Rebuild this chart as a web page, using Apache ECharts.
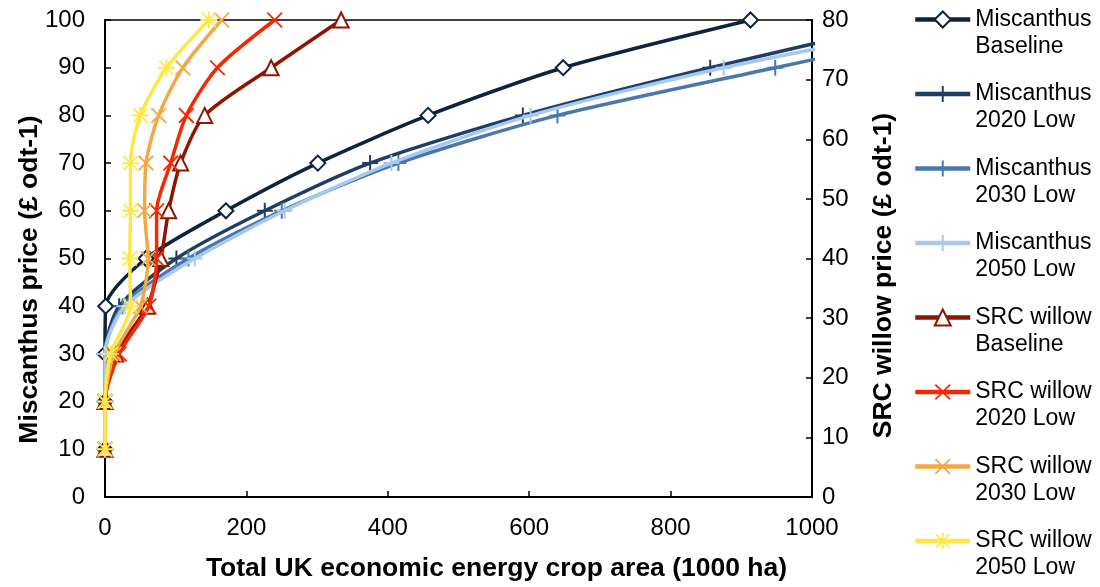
<!DOCTYPE html>
<html>
<head>
<meta charset="utf-8">
<script src="https://cdn.jsdelivr.net/npm/echarts@6/dist/echarts.min.js"></script>
<style>html,body{margin:0;padding:0;background:#fff}#c{width:1100px;height:587px}</style>
</head>
<body>
<div id="c"></div>
<script>
// Prices (y values)
var miscPrice = [10, 20, 30, 40, 50, 60, 70, 80, 90, 100];      // left axis (£ odt-1)
var srcPrice  = [8, 16, 24, 32, 40, 48, 56, 64, 72, 80];         // right axis (£ odt-1)

// Areas (1000 ha)
var miscBaseline = [0, 0, 0, 1, 58, 171, 301, 457, 648, 913];
var misc2020Low  = [0, 0, 0, 20, 101, 226, 375, 591, 856, 1150];
var misc2030Low  = [0, 0, 0, 25, 118, 250, 415, 640, 948, 1270];
var misc2050Low  = [0, 0, 0, 28, 127, 254, 405, 602, 875, 1220];
var srcBaseline  = [0, 0, 15, 60, 79, 90, 107, 141, 235, 334];
var src2020Low   = [0, 0, 20, 62, 73, 73, 93, 115, 159, 240];
var src2030Low   = [0, 0, 13, 50, 61, 56, 58, 76, 110, 165];
var src2050Low   = [0, 0, 8, 36, 35, 36, 36, 50, 87, 147];

var seriesNames = ['Miscanthus Baseline', 'Miscanthus 2020 Low', 'Miscanthus 2030 Low', 'Miscanthus 2050 Low',
                   'SRC willow Baseline', 'SRC willow 2020 Low', 'SRC willow 2030 Low', 'SRC willow 2050 Low'];
var legendLabels = ['Miscanthus\nBaseline', 'Miscanthus\n2020 Low', 'Miscanthus\n2030 Low', 'Miscanthus\n2050 Low',
                    'SRC willow\nBaseline', 'SRC willow\n2020 Low', 'SRC willow\n2030 Low', 'SRC willow\n2050 Low'];
var xTicks = [0, 200, 400, 600, 800, 1000];

var PLUS = 'path://M8.75,0 L11.25,0 L11.25,20 L8.75,20 Z M0,8.75 L20,8.75 L20,11.25 L0,11.25 Z';
var CROSS = 'path://M1.6,0 L20,18.4 L18.4,20 L0,1.6 Z M18.4,0 L20,1.6 L1.6,20 L0,18.4 Z';
var STAR = 'path://M8.9,0 L11.1,0 L11.1,20 L8.9,20 Z M0,8.9 L20,8.9 L20,11.1 L0,11.1 Z M2.4,1 L19,17.6 L17.6,19 L1,2.4 Z M17.6,1 L19,2.4 L2.4,19 L1,17.6 Z';

function pairs(xs, ys) { return xs.map(function (x, i) { return [x, ys[i]]; }); }

function mk(idx, xs, ys, axis, color, symbol, size, hollow) {
  return {
    name: seriesNames[idx], type: 'line', yAxisIndex: axis,
    data: pairs(xs, ys), smooth: 0.25, clip: true,
    symbol: symbol, symbolSize: size, showAllSymbol: true,
    lineStyle: { color: color, width: 3.5 },
    itemStyle: hollow ? { color: '#ffffff', borderColor: color, borderWidth: 2 } : { color: color, borderWidth: 0 },
    emphasis: { disabled: true },
    z: 2 + idx
  };
}

var chart = echarts.init(document.getElementById('c'), null, { renderer: 'canvas' });
var FONT = 'Liberation Sans';
chart.setOption({
  animation: false,
  backgroundColor: '#ffffff',
  grid: { left: 105, right: 288, top: 20, bottom: 86, show: true, borderColor: '#000', borderWidth: 1.5, backgroundColor: 'transparent' },
  legend: {
    orient: 'vertical', left: 913, top: -21, height: 800, padding: 0, itemGap: -6.5,
    itemWidth: 55, itemHeight: 20,
    lineStyle: { width: 4.5 },
    data: seriesNames,
    formatter: function (n) { return '\n' + legendLabels[seriesNames.indexOf(n)]; },
    textStyle: { fontFamily: FONT, fontSize: 23, color: '#000', lineHeight: 27 }
  },
  xAxis: {
    type: 'value', min: 0, max: 1000, interval: 200,
    name: 'Total UK economic energy crop area (1000 ha)', nameLocation: 'middle', nameGap: 58, nameMoveOverlap: false,
    nameTextStyle: { fontFamily: FONT, fontSize: 26.5, fontWeight: 'bold', color: '#000', padding: [0, 0, 0, 76] },
    axisLine: { lineStyle: { color: '#000', width: 2 } },
    axisTick: { inside: true, length: 6, lineStyle: { color: '#000', width: 1.5 } },
    axisLabel: { fontFamily: FONT, fontSize: 24, color: '#000', margin: 19,
                 formatter: function (v) { return xTicks.indexOf(v) >= 0 ? String(v) : ''; } },
    splitLine: { show: false }
  },
  yAxis: [{
    type: 'value', min: 0, max: 100, interval: 10, position: 'left',
    name: 'Miscanthus price (£ odt-1)', nameLocation: 'middle', nameGap: 62, nameMoveOverlap: false,
    nameTextStyle: { fontFamily: FONT, fontSize: 26.5, fontWeight: 'bold', color: '#000', padding: [0, 42, 0, 0] },
    axisLine: { show: true, lineStyle: { color: '#000', width: 2 } },
    axisTick: { show: true, inside: true, length: 6, lineStyle: { color: '#000', width: 1.5 } },
    axisLabel: { fontFamily: FONT, fontSize: 24, color: '#000', margin: 20 },
    splitLine: { show: false }
  }, {
    type: 'value', min: 0, max: 80, interval: 10, position: 'right',
    name: 'SRC willow price (£ odt-1)', nameLocation: 'middle', nameGap: 58,
    nameTextStyle: { fontFamily: FONT, fontSize: 26.5, fontWeight: 'bold', color: '#000', padding: [0, 34, 0, 0] },
    axisLine: { show: true, lineStyle: { color: '#000', width: 2 } },
    axisTick: { show: true, inside: true, length: 6, lineStyle: { color: '#000', width: 1.5 } },
    axisLabel: { fontFamily: FONT, fontSize: 24, color: '#000', margin: 10 },
    splitLine: { show: false }
  }],
  series: [
    mk(0, miscBaseline, miscPrice, 0, '#0e2340', 'diamond', 15, true),
    mk(1, misc2020Low, miscPrice, 0, '#1f3e66', PLUS, 16, false),
    mk(2, misc2030Low, miscPrice, 0, '#4a78aa', PLUS, 16, false),
    mk(3, misc2050Low, miscPrice, 0, '#a8c8ec', PLUS, 16, false),
    mk(4, srcBaseline, srcPrice, 1, '#8e1500', 'triangle', 15, true),
    mk(5, src2020Low, srcPrice, 1, '#f52800', CROSS, 16, false),
    mk(6, src2030Low, srcPrice, 1, '#f0a946', CROSS, 16, false),
    mk(7, src2050Low, srcPrice, 1, '#fde84a', STAR, 17, false)
  ]
});
</script>
</body>
</html>
